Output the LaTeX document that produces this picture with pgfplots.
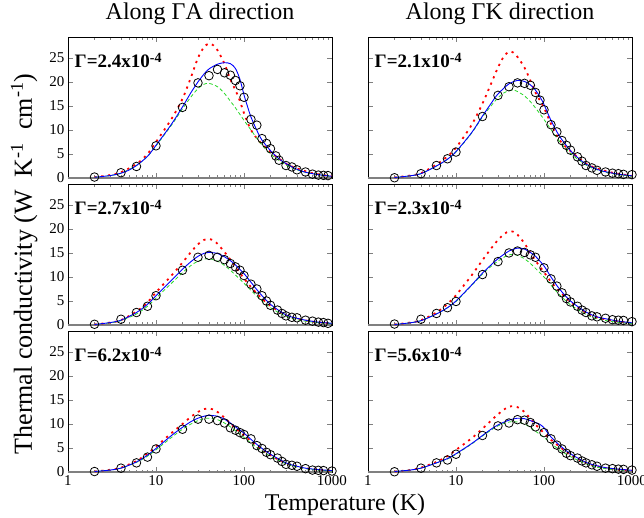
\documentclass[border=0pt]{standalone}
\usepackage{fontspec}
\setmainfont{Liberation Serif}
\usepackage{pgfplots}
\pgfplotsset{compat=1.18}
\usepgfplotslibrary{groupplots}

\definecolor{kgreen}{RGB}{40,215,40}

\pgfplotsset{
  kpanel/.style={xmode=log, xmin=1, xmax=1000, ymin=0, ymax=29.25,
    scale only axis, width=264pt, height=140.5pt,
    xtick={1,10,100,1000}, xticklabels={1,10,100,1000},
    ytick={0,5,10,15,20,25}, minor ytick={},
    tick align=inside, major tick length=5pt, minor tick length=2.5pt,
    ticklabel style={font=\fontsize{15}{15}\selectfont},
    /pgf/number format/assume math mode=true,
    axis line style={line width=0.6pt}, clip=false,
    title style={font=\fontsize{24}{24}\selectfont, at={(0.5,1)}, anchor=base, yshift=12pt}},
  kzero/.style={gray, line width=1.5pt, forget plot},
  kred/.style={red, line width=1.8pt, dash pattern=on 2.2pt off 4.6pt, smooth},
  kgrn/.style={kgreen, line width=0.8pt, dash pattern=on 3.5pt off 2.5pt, smooth},
  kblu/.style={blue, line width=0.9pt, smooth},
  kexp/.style={black, only marks, mark=o, mark size=4.3pt, mark options={line width=0.8pt}},
}
\newcommand{\gam}[1]{\node[anchor=base west, font=\fontsize{19}{19}\selectfont\bfseries]
  at (rel axis cs:0.012,0.788) {Γ=#1x10\raisebox{0.5ex}{\fontsize{14}{14}\selectfont -4}};}

\begin{document}
\begin{tikzpicture}
\begin{groupplot}[group style={group size=2 by 3, horizontal sep=36pt, vertical sep=6.5pt,
    xticklabels at=edge bottom, yticklabels at=edge left}, kpanel]

% along GammaA, 2.4e-4
\nextgroupplot[title={Along ΓA direction}]
\addplot[kzero] coordinates {(1,0)(1000,0)};
\addplot[kred] coordinates {(2,0.15)(3,0.6)(4,1.2)(6,2.9)(8,5.0)(10,7.5)(15,12.3)(20,16.5)(25,21.0)(30,25.0)(35,27.2)(40,28.0)(45,27.6)(50,26.6)(60,23.8)(70,20.5)(80,18.3)(90,16.0)(100,13.5)(120,10.0)(150,7.6)(200,5.4)(300,3.0)(400,2.0)(600,1.0)(1000,0.35)};
\addplot[kgrn] coordinates {(2,0.15)(3,0.5)(4,1.0)(6,2.6)(8,4.5)(10,6.7)(15,11.0)(20,14.4)(25,16.9)(30,18.6)(35,19.5)(40,19.7)(50,19.0)(60,17.6)(70,16.0)(80,14.6)(100,12.0)(120,10.0)(150,7.5)(200,5.0)(300,2.7)(400,1.7)(500,1.2)(700,0.7)(1000,0.3)};
\addplot[kblu] coordinates {(2,0.15)(3,0.5)(4,1.0)(5,1.7)(6,2.6)(8,4.5)(10,6.8)(15,11.2)(20,14.8)(25,17.8)(30,20.0)(35,21.6)(40,22.7)(50,23.7)(60,24.0)(70,23.8)(80,22.8)(90,20.5)(100,17.3)(110,14.8)(120,12.7)(140,9.9)(160,7.9)(200,5.7)(250,4.0)(300,3.0)(400,1.8)(500,1.2)(700,0.7)(1000,0.35)};
\addplot[kexp] coordinates {(2,0.2)(4,1.1)(6,2.4)(10,6.7)(20,14.7)(30,19.8)(40,21.3)(50,22.6)(60,21.9)(70,21.4)(80,20.3)(90,19.2)(100,16.8)(120,12.2)(140,11.0)(160,8.2)(180,7.2)(200,6.1)(230,4.6)(250,3.7)(300,2.6)(350,2.3)(400,1.7)(500,1.25)(600,0.8)(700,0.6)(800,0.55)(900,0.5)};
\gam{2.4}

% along GammaK, 2.1e-4
\nextgroupplot[title={Along ΓK direction}]
\addplot[kzero] coordinates {(1,0)(1000,0)};
\addplot[kred] coordinates {(2,0.1)(3,0.5)(4,1.0)(6,2.8)(8,4.5)(10,6.3)(15,11.0)(20,15.5)(25,19.6)(30,23.0)(35,25.3)(40,26.3)(45,26.1)(50,25.2)(60,23.0)(70,20.3)(80,17.8)(100,14.6)(120,11.3)(150,7.9)(200,5.6)(300,3.0)(400,2.0)(600,1.1)(1000,0.45)};
\addplot[kgrn] coordinates {(2,0.1)(3,0.45)(4,0.9)(6,2.5)(8,3.9)(10,5.4)(15,9.3)(20,12.7)(25,15.0)(30,16.7)(35,17.7)(40,18.2)(45,18.3)(50,18.0)(60,17.1)(70,15.9)(80,14.6)(100,12.2)(120,10.1)(150,7.6)(200,5.1)(300,2.7)(400,1.7)(600,0.9)(1000,0.35)};
\addplot[kblu] coordinates {(2,0.1)(3,0.45)(4,0.9)(6,2.5)(8,3.9)(10,5.5)(15,9.4)(20,12.9)(25,15.5)(30,17.5)(40,19.6)(50,20.3)(60,20.1)(70,19.4)(80,18.3)(90,16.9)(100,15.3)(120,12.0)(150,8.7)(200,5.7)(250,4.0)(300,2.9)(400,1.8)(500,1.3)(700,0.8)(1000,0.45)};
\addplot[kexp] coordinates {(2,0.05)(4,0.9)(6,2.6)(8,4.0)(10,5.4)(20,12.8)(30,17.2)(40,19.0)(50,19.8)(60,19.7)(70,19.3)(80,17.8)(90,16.2)(100,14.2)(120,11.1)(140,9.6)(160,7.8)(180,6.8)(200,5.8)(240,4.4)(270,3.5)(300,2.6)(350,2.1)(400,1.6)(500,1.25)(600,1.0)(700,0.9)(800,0.75)(1000,0.7)};
\gam{2.1}

% along GammaA, 2.7e-4
\nextgroupplot
\addplot[kzero] coordinates {(1,0)(1000,0)};
\addplot[kred] coordinates {(2,0.1)(3,0.5)(4,1.0)(6,2.8)(8,4.7)(10,6.8)(15,10.3)(20,13.0)(25,15.2)(30,16.8)(35,17.7)(40,17.9)(45,17.6)(50,16.9)(60,15.2)(70,13.6)(80,12.1)(100,9.7)(120,7.9)(150,6.0)(200,4.0)(300,2.0)(400,1.3)(600,0.7)(1000,0.3)};
\addplot[kgrn] coordinates {(2,0.1)(3,0.45)(4,0.9)(6,2.3)(8,3.9)(10,5.6)(15,8.7)(20,10.9)(25,12.4)(30,13.3)(35,13.7)(40,13.8)(50,13.3)(60,12.4)(70,11.4)(80,10.4)(100,8.7)(120,7.2)(150,5.5)(200,3.6)(300,1.8)(400,1.1)(600,0.6)(1000,0.25)};
\addplot[kblu] coordinates {(2,0.1)(3,0.5)(4,1.0)(6,2.6)(8,4.3)(10,6.1)(15,9.3)(20,11.6)(25,13.2)(30,14.3)(35,14.9)(40,15.1)(50,14.9)(60,14.2)(70,13.4)(80,12.5)(100,10.7)(120,8.9)(150,6.7)(200,4.3)(300,2.1)(400,1.4)(500,1.0)(700,0.6)(1000,0.35)};
\addplot[kexp] coordinates {(2,0.15)(4,1.2)(6,2.6)(8,3.9)(10,6.1)(20,11.4)(30,14.1)(40,14.5)(50,14.1)(60,13.6)(70,12.8)(80,12.1)(90,11.4)(100,10.3)(120,8.5)(140,7.5)(160,6.1)(180,5.0)(200,4.1)(240,3.1)(270,2.4)(300,1.9)(350,1.6)(400,1.5)(500,1.0)(600,0.8)(700,0.6)(800,0.5)(900,0.35)};
\gam{2.7}

% along GammaK, 2.3e-4
\nextgroupplot
\addplot[kzero] coordinates {(1,0)(1000,0)};
\addplot[kred] coordinates {(2,0.1)(3,0.5)(4,1.0)(6,2.6)(8,4.4)(10,6.2)(15,10.3)(20,13.5)(25,15.9)(30,17.7)(35,18.9)(40,19.5)(45,19.4)(50,18.8)(60,17.0)(70,15.0)(80,13.4)(100,11.0)(120,9.0)(150,7.0)(200,4.8)(300,2.5)(400,1.6)(600,0.9)(1000,0.4)};
\addplot[kgrn] coordinates {(2,0.1)(3,0.45)(4,0.9)(6,2.3)(8,3.6)(10,4.9)(15,8.2)(20,10.6)(25,12.2)(30,13.3)(35,14.1)(40,14.6)(45,14.7)(50,14.5)(60,13.8)(70,12.8)(80,11.8)(100,10.0)(120,8.3)(150,6.3)(200,4.2)(300,2.2)(400,1.3)(600,0.7)(1000,0.3)};
\addplot[kblu] coordinates {(2,0.1)(3,0.45)(4,0.9)(6,2.3)(8,3.6)(10,5.0)(15,8.3)(20,10.8)(25,12.5)(30,13.8)(40,15.4)(50,16.0)(60,15.8)(70,15.1)(80,14.3)(100,12.3)(120,10.0)(150,7.5)(200,5.0)(300,2.7)(400,1.7)(500,1.3)(700,0.8)(1000,0.45)};
\addplot[kexp] coordinates {(2,0.2)(4,1.2)(6,2.4)(8,3.6)(10,4.9)(20,10.5)(30,13.2)(40,15.0)(50,15.4)(60,15.1)(70,14.6)(80,14.1)(100,11.9)(120,9.6)(140,8.1)(160,6.7)(180,5.5)(200,4.8)(240,3.9)(270,3.1)(300,2.6)(350,1.9)(400,1.7)(500,1.4)(600,1.1)(700,1.0)(800,0.95)(1000,0.7)};
\gam{2.3}

% along GammaA, 6.2e-4
\nextgroupplot
\addplot[kzero] coordinates {(1,0)(1000,0)};
\addplot[kred] coordinates {(2,0.1)(3,0.45)(4,0.9)(6,2.3)(8,3.8)(10,5.3)(15,8.1)(20,10.0)(25,11.5)(30,12.5)(35,13.1)(40,13.2)(45,13.0)(50,12.5)(60,11.3)(70,10.1)(80,9.1)(100,7.7)(120,6.4)(150,5.0)(200,3.5)(300,1.8)(400,1.1)(600,0.6)(1000,0.25)};
\addplot[kgrn] coordinates {(2,0.1)(3,0.4)(4,0.8)(6,2.0)(8,3.3)(10,4.6)(15,7.2)(20,8.9)(25,10.0)(30,10.7)(35,11.1)(40,11.2)(50,10.9)(60,10.2)(70,9.4)(80,8.6)(100,7.2)(120,6.0)(150,4.7)(200,3.3)(300,1.7)(400,1.0)(600,0.5)(1000,0.2)};
\addplot[kblu] coordinates {(2,0.1)(3,0.4)(4,0.8)(6,2.1)(8,3.5)(10,4.9)(15,7.6)(20,9.3)(25,10.5)(30,11.2)(35,11.6)(40,11.8)(50,11.6)(60,11.0)(70,10.2)(80,9.4)(100,8.1)(120,6.8)(150,5.3)(200,3.7)(300,1.9)(400,1.2)(500,0.8)(700,0.5)(1000,0.3)};
\addplot[kexp] coordinates {(2,0.1)(4,0.8)(6,1.9)(8,3.1)(10,4.8)(20,8.9)(30,11.0)(40,11.0)(50,10.7)(60,10.2)(70,9.2)(80,8.7)(90,8.2)(100,7.8)(120,6.9)(140,5.5)(160,4.9)(180,4.1)(200,3.6)(240,2.9)(270,2.2)(300,1.6)(350,1.4)(400,1.2)(500,0.7)(600,0.4)(700,0.35)(800,0.3)(1000,0.2)};
\gam{6.2}

% along GammaK, 5.6e-4
\nextgroupplot
\addplot[kzero] coordinates {(1,0)(1000,0)};
\addplot[kred] coordinates {(2,0.1)(3,0.4)(4,0.9)(6,2.1)(8,3.3)(10,4.6)(15,7.0)(20,9.0)(25,10.7)(30,12.0)(35,13.0)(40,13.6)(45,13.7)(50,13.5)(60,12.5)(70,11.1)(80,9.9)(100,8.1)(120,6.7)(150,5.3)(200,3.6)(300,1.9)(400,1.2)(600,0.6)(1000,0.3)};
\addplot[kgrn] coordinates {(2,0.1)(3,0.4)(4,0.8)(6,1.9)(8,2.7)(10,3.7)(15,5.8)(20,7.5)(25,8.7)(30,9.6)(35,10.1)(40,10.4)(45,10.5)(50,10.4)(60,10.0)(70,9.3)(80,8.5)(100,7.2)(120,6.0)(150,4.6)(200,3.2)(300,1.7)(400,1.0)(600,0.5)(1000,0.25)};
\addplot[kblu] coordinates {(2,0.1)(3,0.4)(4,0.8)(6,1.9)(8,2.8)(10,3.8)(15,5.9)(20,7.6)(25,8.9)(30,9.8)(40,10.8)(50,11.2)(60,11.1)(70,10.7)(80,10.3)(90,9.9)(100,9.2)(120,7.3)(150,5.6)(200,3.8)(300,2.0)(400,1.3)(500,0.9)(700,0.6)(1000,0.35)};
\addplot[kexp] coordinates {(2,0.05)(4,0.8)(6,1.9)(8,2.5)(10,3.7)(20,7.6)(30,9.6)(40,10.2)(50,10.9)(60,10.8)(70,10.3)(80,9.4)(100,8.2)(120,6.9)(140,5.6)(160,4.8)(180,3.9)(200,3.4)(240,2.9)(270,2.3)(300,1.9)(350,1.5)(400,1.2)(500,0.8)(600,0.7)(700,0.6)(800,0.55)(1000,0.4)};
\gam{5.6}
\end{groupplot}

\node[rotate=90, anchor=base, font=\fontsize{26}{26}\selectfont]
  at ([shift={(-36pt,208pt)}]group c1r3.south west)
  {Thermal conductivity (W\ \ K\textsuperscript{-1}\ \ cm\textsuperscript{-1})};
\node[anchor=base, font=\fontsize{24}{24}\selectfont]
  at ([shift={(277pt,-38pt)}]group c1r3.south west) {Temperature (K)};

\pgfresetboundingbox
\path[use as bounding box] ([shift={(-68pt,-46pt)}]group c1r3.south west) rectangle ++(644pt,518pt);
\end{tikzpicture}
\end{document}
